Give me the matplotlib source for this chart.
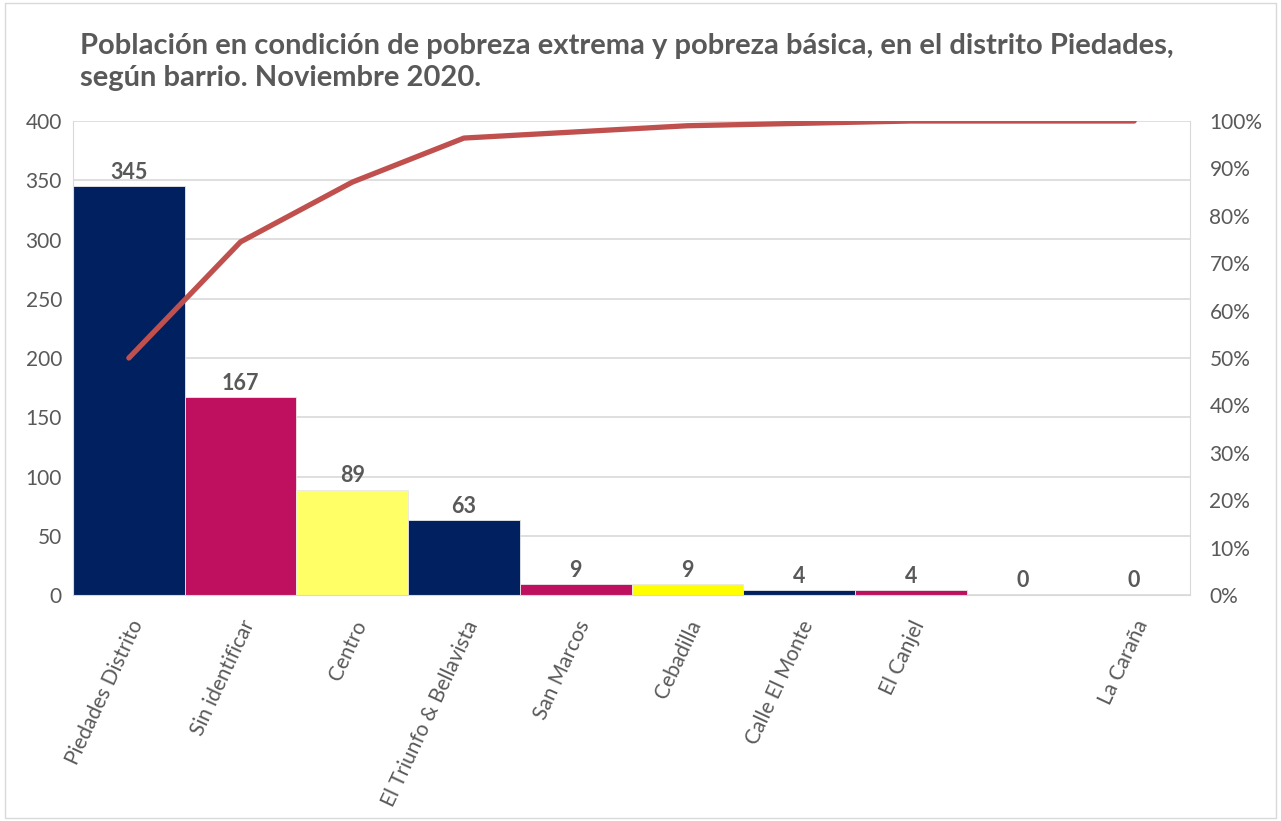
import matplotlib; matplotlib.use("Agg")
import matplotlib.pyplot as plt
from matplotlib.patches import Rectangle

barrios = ["Piedades Distrito", "Sin identificar", "Centro", "El Triunfo & Bellavista",
           "San Marcos", "Cebadilla", "Calle El Monte", "El Canjel", "", "La Caraña"]
poblacion = [345, 167, 89, 63, 9, 9, 4, 4, 0, 0]
acumulado = [50.0, 74.5, 87.1, 96.4, 97.7, 99.0, 99.5, 100.0, 100.0, 100.0]
colores = ["#002060", "#BE105E", "#FFFF66", "#002060", "#BE105E",
           "#FFFF00", "#002060", "#BE105E", "#002060", "#BE105E"]

GRIS = "#595959"
plt.rcParams["font.family"] = ["Lato", "DejaVu Sans"]

fig = plt.figure(figsize=(12.81, 8.21), dpi=100)
fig.patches.append(Rectangle((0.004, 0.004), 0.992, 0.992, transform=fig.transFigure,
                             fill=False, edgecolor="#D9D9D9", lw=1))
ax = fig.add_axes([73/1281, 1-595/821, (1190-73)/1281, (595-121)/821])
x = list(range(len(barrios)))
ax.bar(x, poblacion, width=1.0, color=colores, edgecolor="#E8E8E8", lw=0.6, zorder=2)
ax.set_xlim(-0.5, len(barrios)-0.5)
ax.set_ylim(0, 400)
ax.set_yticks(range(0, 401, 50))
ax.grid(axis="y", color="#D9D9D9", lw=1.2, zorder=0)
ax.set_axisbelow(True)
ax.spines["top"].set_visible(False)
for s in ["left", "right", "bottom"]:
    ax.spines[s].set_color("#D9D9D9")
ax.tick_params(axis="y", length=0, labelsize=15, colors=GRIS, pad=8)
ax.tick_params(axis="x", length=0, labelsize=15, colors=GRIS, pad=16)
ax.set_xticks(x)
ax.set_xticklabels(barrios, rotation=65, ha="right", rotation_mode="anchor", fontsize=15)
for xi, v in zip(x, poblacion):
    ax.text(xi, v + 3, str(v), ha="center", va="bottom", fontsize=15.5,
            fontweight="bold", color=GRIS)

ax2 = ax.twinx()
ax2.plot(x, acumulado, color="#C0504D", lw=3.8, solid_capstyle="round", zorder=5)
ax2.set_ylim(0, 100)
ax2.set_yticks(range(0, 101, 10))
ax2.set_yticklabels([f"{t}%" for t in range(0, 101, 10)])
ax2.tick_params(axis="y", length=0, labelsize=15, colors=GRIS, pad=14)
for s in ax2.spines.values():
    s.set_visible(False)

fig.text(80/1281, 1-62/821,
         "Población en condición de pobreza extrema y pobreza básica, en el distrito Piedades,\nsegún barrio. Noviembre 2020.",
         ha="left", va="center", fontsize=21, fontweight="bold", color=GRIS,
         linespacing=1.3)

fig.savefig("out.png", dpi=100)
